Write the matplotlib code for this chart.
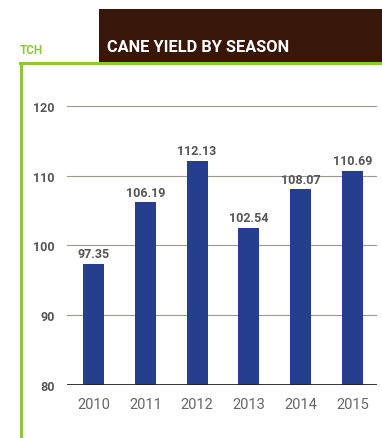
import matplotlib.pyplot as plt
from matplotlib.patches import Rectangle
from matplotlib.lines import Line2D
import numpy as np

# cane yield (tonnes cane per hectare) per season
seasons = ['2010', '2011', '2012', '2013', '2014', '2015']
tch = [97.35, 106.19, 112.13, 102.54, 108.07, 110.69]
y_ticks = [80, 90, 100, 110, 120]

bar_blue = '#253f8e'
green = '#8dc63f'
brown = '#381609'
label_grey = '#555555'

plt.rcParams['font.family'] = ['Roboto', 'DejaVu Sans']

W, H = 382, 439
fig = plt.figure(figsize=(W / 100, H / 100), dpi=100)

# header box and title
fig.add_artist(Rectangle((99 / W, 1 - 63 / H), 1 - 99 / W, 53 / H,
                         transform=fig.transFigure, color=brown, lw=0))
fig.text(107 / W, 1 - 48 / H, 'CANE YIELD BY SEASON', color='white',
         fontsize=11.8, fontweight='bold', va='center', ha='left')
fig.text(20 / W, 1 - 50 / H, 'TCH', color=green, fontsize=8.5,
         fontweight='bold', va='center', ha='left')

# green frame: top and left edges
fig.add_artist(Line2D([20 / W, 1], [1 - 64 / H, 1 - 64 / H],
                      transform=fig.transFigure, color=green, lw=2.2))
fig.add_artist(Line2D([21 / W, 21 / W], [1 - 64 / H, 0],
                      transform=fig.transFigure, color=green, lw=2.2))

ax = fig.add_axes([67 / W, (H - 386) / H, 310 / W, 307 / H])
x = np.arange(len(seasons))
ax.bar(x, tch, width=0.405, color=bar_blue, zorder=2)

for xi, v in zip(x, tch):
    ax.annotate(f'{v:.2f}', (xi, v), xytext=(0, 2.5), textcoords='offset points',
                ha='center', va='bottom', fontsize=9, fontweight='bold',
                color=label_grey, zorder=3)

ax.set_ylim(80, 124)
ax.set_xlim(-0.512, 5.473)
ax.set_yticks(y_ticks)
ax.set_yticklabels([str(t) for t in y_ticks], fontsize=9, fontweight='bold',
                   color=label_grey)
ax.set_xticks(x)
ax.set_xticklabels(seasons, fontsize=10.5, color='#666666')
ax.tick_params(axis='y', length=0, pad=9)
ax.tick_params(axis='x', length=0, pad=9)

for t in y_ticks[1:]:
    ax.axhline(t, color='#9a9a90', lw=0.8, zorder=1)
ax.axhline(80, color='#222222', lw=2.0, zorder=3)

for s in ax.spines.values():
    s.set_visible(False)

fig.savefig('out.png', dpi=100)
